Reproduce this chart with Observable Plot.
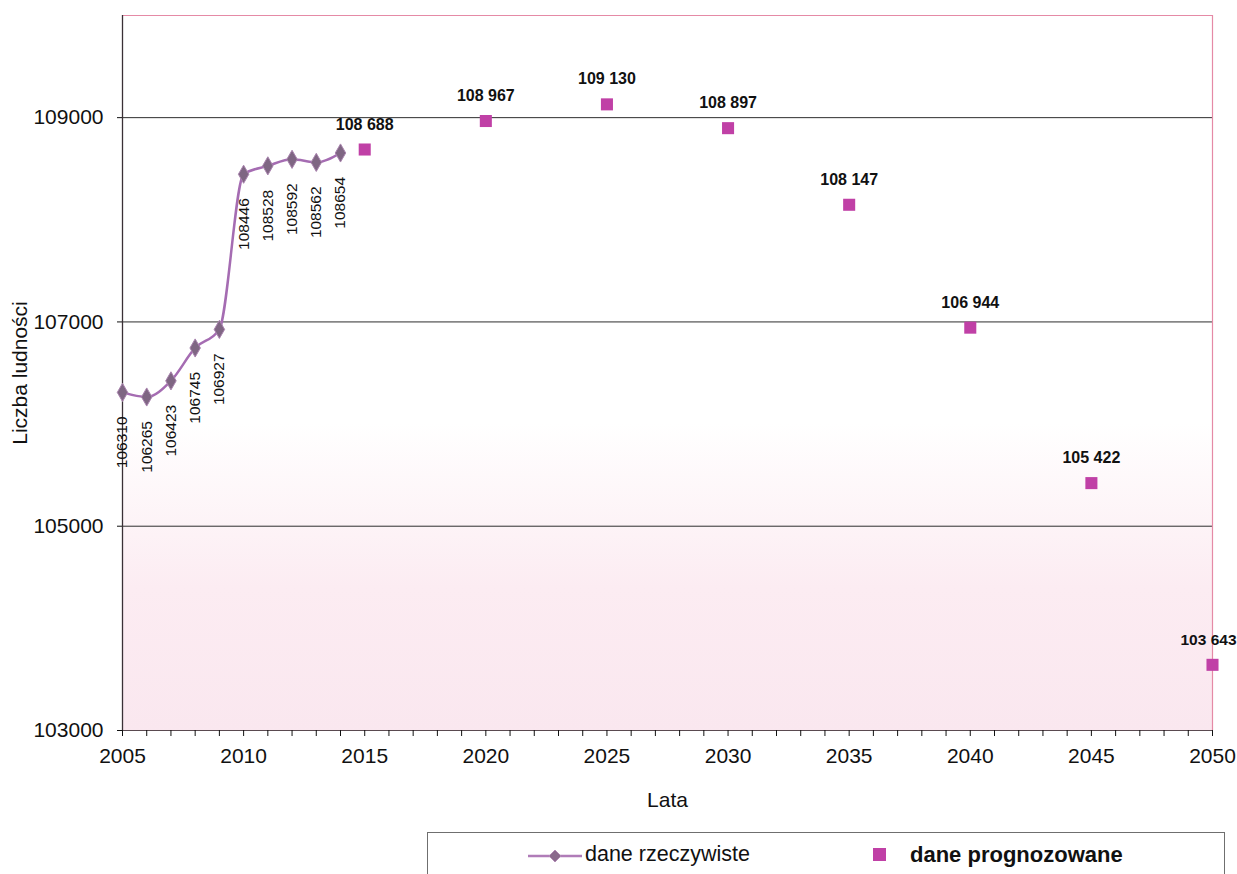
<!DOCTYPE html>
<html>
<head>
<meta charset="utf-8">
<script src="https://cdn.jsdelivr.net/npm/d3@7"></script>
<script src="https://cdn.jsdelivr.net/npm/@observablehq/plot@0.6"></script>
<style>
  body { margin: 0; background: white; font-family: Arial, "Liberation Sans", sans-serif; }
  #wrap { position: relative; width: 1237px; height: 874px; overflow: hidden; }
  #legend { position: absolute; left: 427px; top: 832px; width: 798px; height: 70px; border: 1px solid #6f6f6f; box-sizing: border-box; }
  .li { position: absolute; top: 9px; font-size: 21.5px; color: #111; white-space: nowrap; }
</style>
</head>
<body>
<div id="wrap">
  <div id="chart"></div>
  <div id="legend">
    <svg style="position:absolute;left:98px;top:13px" width="60" height="20">
      <line x1="2" y1="10" x2="56" y2="10" stroke="#b07cb8" stroke-width="2.5"></line>
      <path d="M29,4 L35,10 L29,16 L23,10 Z" fill="#8a6a8c" stroke="#b28ab6"></path>
    </svg>
    <div class="li" style="left:157px;">dane rzeczywiste</div>
    <div style="position:absolute;left:445px;top:15px;width:13px;height:13px;background:#c040a6;"></div>
    <div class="li" style="left:482px;font-weight:bold;font-size:22px;">dane prognozowane</div>
  </div>
</div>
<script>
// ---- data ----
const actualYears = [2005, 2006, 2007, 2008, 2009, 2010, 2011, 2012, 2013, 2014];
const actualValues = [106310, 106265, 106423, 106745, 106927, 108446, 108528, 108592, 108562, 108654];
const projYears = [2015, 2020, 2025, 2030, 2035, 2040, 2045, 2050];
const projValues = [108688, 108967, 109130, 108897, 108147, 106944, 105422, 103643];
const xTickLabels = [2005, 2010, 2015, 2020, 2025, 2030, 2035, 2040, 2045, 2050];
const yTickLabels = [103000, 105000, 107000, 109000];

const actualData = actualYears.map((year, i) => ({year, value: actualValues[i]}));
const projData = projYears.map((year, i) => ({year, value: projValues[i]}));
const fmtSpace = d3.formatLocale({thousands: " ", grouping: [3], decimal: ","}).format(",");
const minorTicks = d3.range(xTickLabels[0], xTickLabels[xTickLabels.length - 1] + 1);
const lastYear = projYears[projYears.length - 1];

const bgDefs = () => {
  const defs = d3.create("svg:defs");
  const g = defs.append("linearGradient").attr("id", "bgGrad")
    .attr("x1", 0).attr("y1", 0).attr("x2", 0).attr("y2", 1);
  g.append("stop").attr("offset", "0").attr("stop-color", "#ffffff");
  g.append("stop").attr("offset", "0.57").attr("stop-color", "#ffffff");
  g.append("stop").attr("offset", "0.8").attr("stop-color", "#fcecf2");
  g.append("stop").attr("offset", "1").attr("stop-color", "#fae7ef");
  return defs.node();
};

const chart = Plot.plot({
  width: 1237,
  height: 825,
  marginLeft: 122,
  marginRight: 25,
  marginTop: 15,
  marginBottom: 95,
  style: {fontFamily: "Arial, 'Liberation Sans', sans-serif", fontSize: "21px", color: "#111", background: "white"},
  x: {domain: [2005, 2050]},
  y: {domain: [103000, 110000]},
  marks: [
    bgDefs,
    Plot.frame({fill: "url(#bgGrad)", stroke: null}),
    Plot.ruleY(yTickLabels.slice(1), {stroke: "#2e2e2e", strokeWidth: 1}),
    Plot.ruleY([110000], {stroke: "#e58aa6", strokeWidth: 1.2}),
    Plot.ruleX([2050], {stroke: "#e58aa6", strokeWidth: 1.2}),
    Plot.ruleY([103000], {stroke: "#5a4a50", strokeWidth: 1.2}),
    Plot.ruleX([2005], {stroke: "#3a3036", strokeWidth: 1.3}),
    Plot.axisX({
      ticks: minorTicks,
      tickSize: 6,
      tickPadding: 12,
      tickFormat: d => xTickLabels.includes(d) ? String(d) : "",
      fontSize: 21,
      label: "Lata",
      labelAnchor: "center",
      labelArrow: "none",
      labelOffset: 76
    }),
    Plot.axisY({
      ticks: yTickLabels,
      tickSize: 5,
      tickPadding: 14,
      tickFormat: d => String(d),
      fontSize: 21,
      label: "Liczba ludności",
      labelAnchor: "center",
      labelArrow: "none",
      labelOffset: 110
    }),
    Plot.line(actualData, {x: "year", y: "value", stroke: "#a56cb2", strokeWidth: 2.5, curve: "monotone-x"}),
    Plot.dot(actualData, {x: "year", y: "value", symbol: "diamond", r: 5.5, fill: "#7f6683", stroke: "#a983ae", strokeWidth: 1}),
    Plot.text(actualData, {x: "year", y: "value", text: d => String(d.value), rotate: -90, textAnchor: "end", dy: 24, fontSize: 15.5, fill: "#111"}),
    Plot.dot(projData, {x: "year", y: "value", symbol: "square", r: 6.8, fill: "#c040a6"}),
    Plot.text(projData, {filter: d => d.year !== lastYear, x: "year", y: "value", text: d => fmtSpace(d.value), dy: -25, fontSize: 16, fontWeight: "bold", fill: "#111"}),
    Plot.text(projData, {filter: d => d.year === lastYear, x: "year", y: "value", text: d => fmtSpace(d.value), dy: -25, dx: -4, fontSize: 15.5, fontWeight: "bold", fill: "#111"})
  ]
});
document.getElementById("chart").appendChild(chart);
</script>
</body>
</html>
